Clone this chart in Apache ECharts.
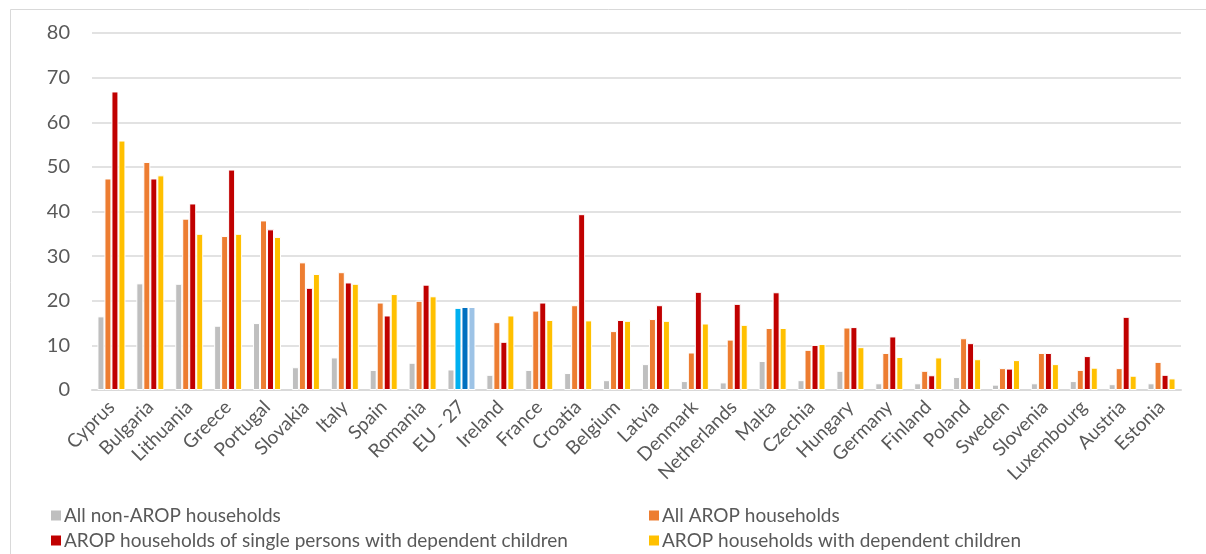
<!DOCTYPE html>
<html>
<head>
<meta charset="utf-8">
<script src="https://cdn.jsdelivr.net/npm/echarts@6/dist/echarts.min.js"></script>
<style>
html,body{margin:0;padding:0;background:#fff;}
#chart{width:1206px;height:554px;}
</style>
</head>
<body>
<div id="chart"></div>
<script>
const categories = ["Cyprus","Bulgaria","Lithuania","Greece","Portugal","Slovakia","Italy","Spain","Romania","EU - 27","Ireland","France","Croatia","Belgium","Latvia","Denmark","Netherlands","Malta","Czechia","Hungary","Germany","Finland","Poland","Sweden","Slovenia","Luxembourg","Austria","Estonia"];
const seriesNames = ["All non-AROP households","All AROP households","AROP households of single persons with dependent children","AROP households with dependent children"];
const nonArop = [16.5,23.9,23.8,14.4,15.0,5.1,7.3,4.5,6.1,4.6,3.4,4.5,3.8,2.2,5.8,2.0,1.7,6.5,2.2,4.3,1.5,1.5,2.9,1.2,1.5,2.0,1.3,1.5];
const allArop = [47.4,51.1,38.4,34.5,38.0,28.6,26.4,19.6,20.0,18.4,15.2,17.8,19.0,13.2,15.9,8.4,11.3,13.9,9.0,14.0,8.3,4.3,11.6,4.9,8.3,4.5,4.9,6.3];
const singleChildren = [66.9,47.4,41.8,49.4,36.0,22.9,24.1,16.7,23.6,18.6,10.8,19.6,39.4,15.7,19.0,22.0,19.3,21.9,10.1,14.1,12.0,3.3,10.5,4.8,8.3,7.6,16.4,3.4];
const withChildren = [55.9,48.1,35.0,35.0,34.3,26.0,23.8,21.5,21.0,18.6,16.7,15.7,15.6,15.5,15.5,14.9,14.6,13.9,10.3,9.6,7.4,7.3,6.9,6.7,5.8,5.0,3.2,2.6];
const yTicks = [0,10,20,30,40,50,60,70,80];

const colors = ["#BFBFBF","#ED7D31","#C00000","#FFC000"];
const euColors = ["#BFBFBF","#00B0F0","#0070C0","#9DC3E6"];
const euIndex = categories.indexOf("EU - 27");
const textColor = "#595959";
const font = "Lato, 'Open Sans', sans-serif";

function mk(idx, arr) {
  return {
    name: seriesNames[idx],
    type: 'bar',
    barWidth: 7,
    barGap: '0%',
    itemStyle: { color: colors[idx], borderColor: '#ffffff', borderWidth: 1 },
    data: arr.map((v, i) => i === euIndex ? { value: v, itemStyle: { color: euColors[idx] } } : v),
    emphasis: { disabled: true }
  };
}

const legendPos = [[44, 501], [642, 501], [44, 526], [642, 526]];
const legends = seriesNames.map((n, i) => ({
  left: legendPos[i][0], top: legendPos[i][1],
  itemWidth: 12, itemHeight: 12, icon: 'rect', itemGap: 0,
  selectedMode: false,
  textStyle: { color: textColor, fontSize: 19, fontFamily: font, padding: [0, 0, 0, -3] },
  data: [n]
}));

const chart = echarts.init(document.getElementById('chart'), null, { renderer: 'canvas' });
chart.setOption({
  animation: false,
  backgroundColor: '#ffffff',
  textStyle: { fontFamily: font },
  graphic: [{
    type: 'rect',
    shape: { x: 10.5, y: 9.5, width: 1400, height: 1000 },
    style: { fill: null, stroke: '#D9D9D9', lineWidth: 1 },
    silent: true
  }],
  grid: { left: 92, right: 25, top: 33, bottom: 164, containLabel: false },
  legend: legends,
  xAxis: {
    type: 'category',
    data: categories,
    axisLine: { lineStyle: { color: '#D9D9D9', width: 2 } },
    axisTick: { show: false },
    axisLabel: { rotate: 45, interval: 0, color: textColor, fontSize: 19, margin: 14, fontFamily: font }
  },
  yAxis: {
    type: 'value',
    min: yTicks[0], max: yTicks[yTicks.length - 1], interval: 10,
    axisLine: { show: false },
    axisTick: { show: false },
    splitLine: { lineStyle: { color: '#D9D9D9', width: 1.5 } },
    axisLabel: { color: textColor, fontSize: 20, margin: 22, fontFamily: font }
  },
  series: [mk(0, nonArop), mk(1, allArop), mk(2, singleChildren), mk(3, withChildren)]
});
</script>
</body>
</html>
